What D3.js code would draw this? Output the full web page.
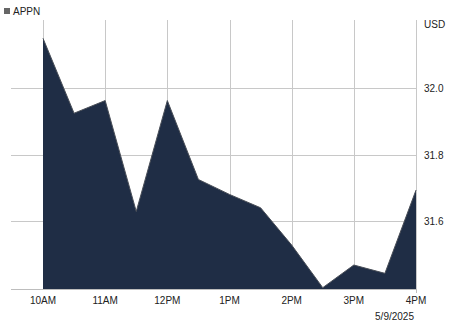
<!DOCTYPE html>
<html>
<head>
<meta charset="utf-8">
<script src="https://cdn.jsdelivr.net/npm/d3@7"></script>
<style>
  body { margin: 0; background: #fff; }
  text { font-family: "Liberation Sans", Arial, sans-serif; }
</style>
</head>
<body>
<div id="wrapper"></div>
<script>
// half-hour prices for the session
const times = ["10:00","10:30","11:00","11:30","12:00","12:30","13:00","13:30","14:00","14:30","15:00","15:30","16:00"]
const prices = [32.149, 31.924, 31.962, 31.629, 31.962, 31.725, 31.680, 31.640, 31.528, 31.400, 31.468, 31.443, 31.693]
const xTickTimes = ["10:00","11:00","12:00","13:00","14:00","15:00","16:00"]
const xTickLabels = ["10AM","11AM","12PM","1PM","2PM","3PM","4PM"]
const yTicks = [31.6, 31.8, 32.0]
const ticker = "APPN"
const currency = "USD"
const dateLabel = "5/9/2025"

function drawChart() {
    const parseTime = d3.timeParse("%H:%M")
    const dataset = times.map((t, i) => ({ time: parseTime(t), price: prices[i] }))

    const xAccessor = d => d.time
    const yAccessor = d => d.price

    let dimensions = {
        width: 460,
        height: 322,
        margin: { top: 20, right: 44, bottom: 33, left: 43 },
    }
    dimensions.boundedWidth = dimensions.width - dimensions.margin.left - dimensions.margin.right
    dimensions.boundedHeight = dimensions.height - dimensions.margin.top - dimensions.margin.bottom

    const wrapper = d3.select("#wrapper").append("svg")
        .attr("width", dimensions.width)
        .attr("height", dimensions.height)

    const bounds = wrapper.append("g")
        .attr("transform", `translate(${dimensions.margin.left},${dimensions.margin.top})`)

    const xScale = d3.scaleTime()
        .domain(d3.extent(dataset, xAccessor))
        .range([0, dimensions.boundedWidth])

    const yScale = d3.scaleLinear()
        .domain([31.396, 32.204])
        .range([dimensions.boundedHeight, 0])

    // horizontal grid, runs a bit left of the plot
    bounds.append("g")
        .selectAll("line")
        .data(yTicks)
        .join("line")
        .attr("x1", -32)
        .attr("x2", dimensions.boundedWidth)
        .attr("y1", d => Math.round(yScale(d)) + 0.5)
        .attr("y2", d => Math.round(yScale(d)) + 0.5)
        .attr("stroke", "#c8c8c8")

    // vertical grid
    bounds.append("g")
        .selectAll("line")
        .data(xTickTimes)
        .join("line")
        .attr("x1", d => Math.round(xScale(parseTime(d))) + 0.5)
        .attr("x2", d => Math.round(xScale(parseTime(d))) + 0.5)
        .attr("y1", 0)
        .attr("y2", dimensions.boundedHeight)
        .attr("stroke", "#c8c8c8")

    // area
    const areaGenerator = d3.area()
        .x(d => xScale(xAccessor(d)))
        .y0(dimensions.boundedHeight)
        .y1(d => yScale(yAccessor(d)))

    bounds.append("path")
        .attr("d", areaGenerator(dataset))
        .attr("fill", "#1f2d45")

    const lineGenerator = d3.line()
        .x(d => xScale(xAccessor(d)))
        .y(d => yScale(yAccessor(d)))

    bounds.append("path")
        .attr("d", lineGenerator(dataset))
        .attr("fill", "none")
        .attr("stroke", "#4a4f58")
        .attr("stroke-width", 1)

    // bottom axis line
    bounds.append("line")
        .attr("x1", -32)
        .attr("x2", dimensions.boundedWidth)
        .attr("y1", dimensions.boundedHeight + 0.5)
        .attr("y2", dimensions.boundedHeight + 0.5)
        .attr("stroke", "#bdbdbd")

    bounds.append("line")
        .attr("x1", dimensions.boundedWidth + 0.5)
        .attr("x2", dimensions.boundedWidth + 0.5)
        .attr("y1", dimensions.boundedHeight)
        .attr("y2", dimensions.boundedHeight + 4)
        .attr("stroke", "#bdbdbd")

    // x labels
    bounds.append("g")
        .selectAll("text")
        .data(xTickTimes)
        .join("text")
        .attr("x", d => xScale(parseTime(d)))
        .attr("y", dimensions.boundedHeight + 15)
        .attr("text-anchor", "middle")
        .attr("font-size", 10)
        .attr("fill", "#222")
        .text((d, i) => xTickLabels[i])

    bounds.append("text")
        .attr("x", dimensions.boundedWidth - 2)
        .attr("y", dimensions.boundedHeight + 31)
        .attr("text-anchor", "end")
        .attr("font-size", 10)
        .attr("fill", "#222")
        .text(dateLabel)

    // y labels on the right
    bounds.append("g")
        .selectAll("text")
        .data(yTicks)
        .join("text")
        .attr("x", dimensions.boundedWidth + 8)
        .attr("y", d => yScale(d) + 4)
        .attr("font-size", 10)
        .attr("fill", "#222")
        .text(d => d3.format(".1f")(d))

    wrapper.append("text")
        .attr("x", dimensions.margin.left + dimensions.boundedWidth + 8)
        .attr("y", 28)
        .attr("font-size", 10)
        .attr("fill", "#222")
        .text(currency)

    // legend
    wrapper.append("rect")
        .attr("x", 4)
        .attr("y", 8)
        .attr("width", 6)
        .attr("height", 6)
        .attr("fill", "#666")

    wrapper.append("text")
        .attr("x", 13)
        .attr("y", 15)
        .attr("font-size", 10)
        .attr("fill", "#222")
        .text(ticker)
}

drawChart()
</script>
</body>
</html>
